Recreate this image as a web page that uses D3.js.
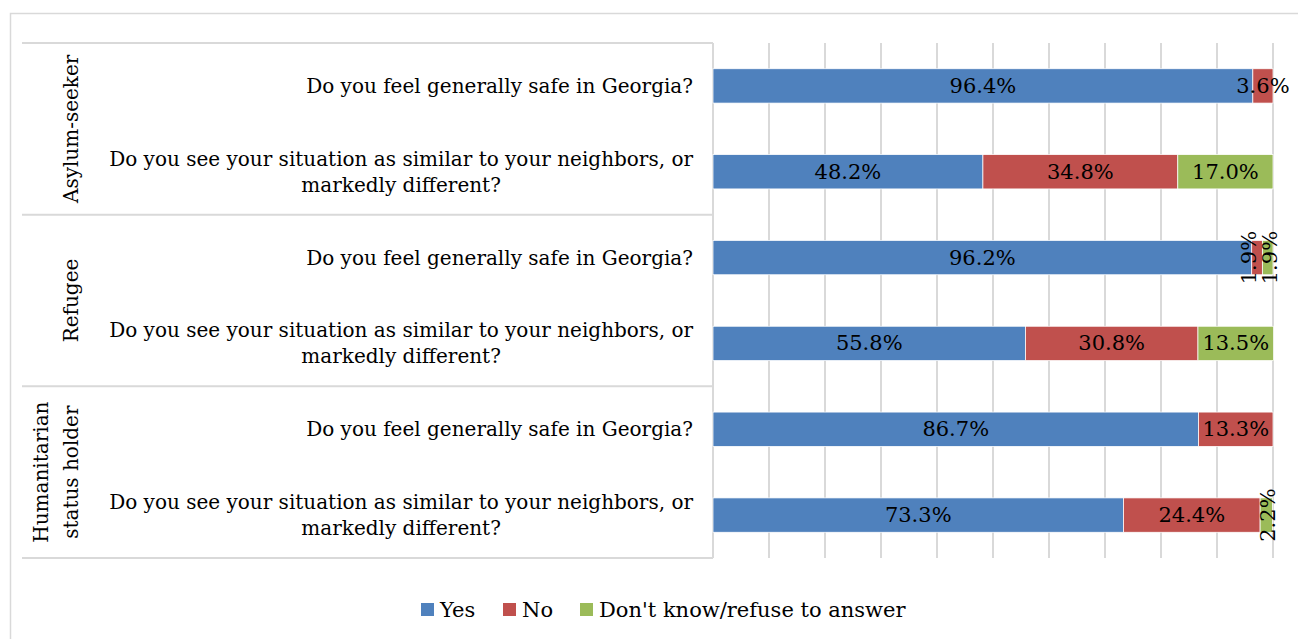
<!DOCTYPE html>
<html>
<head>
<meta charset="utf-8">
<script src="https://cdn.jsdelivr.net/npm/d3@7"></script>
<style>
  html, body { margin: 0; padding: 0; background: #fff; }
  svg { display: block; }
  text { font-family: "DejaVu Serif", "Liberation Serif", serif; fill: #000; }
</style>
</head>
<body>
<svg id="chart" width="1298" height="639"></svg>
<script>
// Respondent groups and the two questions asked of each
const groups = ["Asylum-seeker", "Refugee", "Humanitarian status holder"];
const groupLines = [["Asylum-seeker"], ["Refugee"], ["Humanitarian", "status holder"]];
const questions = [
  ["Do you feel generally safe in Georgia?"],
  ["Do you see your situation as similar to your neighbors, or", "markedly different?"]
];

// Answer series
const seriesNames = ["Yes", "No", "Don't know/refuse to answer"];
const yesValues  = [96.4, 48.2, 96.2, 55.8, 86.7, 73.3];
const noValues   = [3.6, 34.8, 1.9, 30.8, 13.3, 24.4];
const dkValues   = [0, 17.0, 1.9, 13.5, 0, 2.2];
const colors = ["#4F81BD", "#C0504D", "#9BBB59"];

const xTicks = d3.range(0, 101, 10);

// Flattened rows: one per (group, question)
const rows = [];
groups.forEach((g, gi) => {
  questions.forEach((q, qi) => {
    const i = gi * questions.length + qi;
    rows.push({ id: i, group: g, gi, qi, lines: q, values: [yesValues[i], noValues[i], dkValues[i]] });
  });
});

const svg = d3.select("#chart");
const plot = { left: 713, right: 1273, top: 43, bottom: 558 };
const labelLeft = 22;

const x = d3.scaleLinear().domain([0, 100]).range([plot.left, plot.right]);
const y = d3.scaleBand().domain(rows.map(r => r.id)).range([plot.top, plot.bottom]).paddingInner(0.6).paddingOuter(0.3);

// Outer chart frame
svg.append("rect")
  .attr("x", 10.5).attr("y", 13.5)
  .attr("width", 1298).attr("height", 700)
  .attr("fill", "none").attr("stroke", "#D9D9D9").attr("stroke-width", 1.5);

// Vertical gridlines
svg.append("g").selectAll("line").data(xTicks.slice(1)).join("line")
  .attr("x1", d => x(d)).attr("x2", d => x(d))
  .attr("y1", plot.top).attr("y2", plot.bottom)
  .attr("stroke", "#D9D9D9").attr("stroke-width", 2);

// Category axis line
svg.append("line")
  .attr("x1", plot.left).attr("x2", plot.left)
  .attr("y1", plot.top).attr("y2", plot.bottom)
  .attr("stroke", "#D9D9D9").attr("stroke-width", 2);

// Group divider lines spanning the two label levels
const groupBounds = d3.range(groups.length + 1).map(k => plot.top + (plot.bottom - plot.top) * k / groups.length);
svg.append("g").selectAll("line").data(groupBounds).join("line")
  .attr("x1", labelLeft).attr("x2", plot.left)
  .attr("y1", d => d).attr("y2", d => d)
  .attr("stroke", "#D9D9D9").attr("stroke-width", 2);

// Stacked bars
const stackData = rows.map(r => {
  let acc = 0;
  return r.values.map((v, si) => {
    const seg = { row: r, si, v, x0: acc, x1: acc + v };
    acc += v;
    return seg;
  });
});
const segs = stackData.flat().filter(s => s.v > 0);

svg.append("g").selectAll("rect").data(segs).join("rect")
  .attr("x", s => x(s.x0))
  .attr("y", s => y(s.row.id))
  .attr("width", s => x(s.x1) - x(s.x0))
  .attr("height", y.bandwidth())
  .attr("fill", s => colors[s.si])
  .attr("stroke", "#fff").attr("stroke-width", 0.75);

// Data labels: horizontal when they fit, rotated for the narrow slivers
const fs = 20;
const valueFs = 21;
const labelG = svg.append("g");
stackData.forEach(rowSegs => {
  const visible = rowSegs.filter(s => s.v > 0);
  visible.forEach((s, k) => {
    let cx = (x(s.x0) + x(s.x1)) / 2;
    const cy = y(s.row.id) + y.bandwidth() / 2;
    const rotate = s.v < 3;
    // Push a narrow label left when the next narrow label sits right beside it
    const next = visible[k + 1];
    if (rotate && next && next.v < 3) cx -= 10;
    const t = labelG.append("text")
      .attr("text-anchor", "middle")
      .attr("dominant-baseline", "central")
      .attr("font-size", valueFs)
      .text(d3.format(".1f")(s.v) + "%");
    if (rotate) {
      t.attr("transform", `translate(${cx + 2},${cy}) rotate(-90)`);
    } else {
      t.attr("x", cx).attr("y", cy);
    }
  });
});

// Question labels (inner category level)
const qLabelX = 693;
const lineH = 26;
svg.append("g").selectAll("g").data(rows).join("g").each(function(r) {
  const cy = y(r.id) + y.bandwidth() / 2;
  const n = r.lines.length;
  // Right-align the block while centering its lines within it
  const tmp = d3.select(this).append("text").attr("font-size", fs);
  const widths = r.lines.map(l => { tmp.text(l); return tmp.node().getComputedTextLength(); });
  tmp.remove();
  const centerX = qLabelX - d3.max(widths) / 2;
  const t = d3.select(this).append("text")
    .attr("font-size", fs)
    .attr("text-anchor", "middle");
  r.lines.forEach((l, li) => {
    t.append("tspan")
      .attr("x", centerX)
      .attr("y", cy + (li - (n - 1) / 2) * lineH)
      .attr("dominant-baseline", "central")
      .text(l);
  });
});

// Group labels (outer category level), rotated
svg.append("g").selectAll("text").data(groupLines).join("text")
  .attr("font-size", fs)
  .attr("text-anchor", "middle")
  .attr("transform", (d, gi) => {
    const cy = (groupBounds[gi] + groupBounds[gi + 1]) / 2;
    return `translate(${71},${cy}) rotate(-90)`;
  })
  .each(function(lines) {
    const n = lines.length;
    lines.forEach((l, li) => {
      d3.select(this).append("tspan")
        .attr("x", 0)
        .attr("y", (li - (n - 1)) * 30)
        .attr("dominant-baseline", "central")
        .text(l);
    });
  });

// Legend
const legendItems = [
  { name: seriesNames[0], color: colors[0], x: 421 },
  { name: seriesNames[1], color: colors[1], x: 503 },
  { name: seriesNames[2], color: colors[2], x: 580 }
];
const legend = svg.append("g");
legendItems.forEach(it => {
  legend.append("rect")
    .attr("x", it.x).attr("y", 603)
    .attr("width", 13).attr("height", 13)
    .attr("fill", it.color);
  legend.append("text")
    .attr("x", it.x + 19).attr("y", 610)
    .attr("dominant-baseline", "central")
    .attr("font-size", 21)
    .text(it.name);
});
</script>
</body>
</html>
